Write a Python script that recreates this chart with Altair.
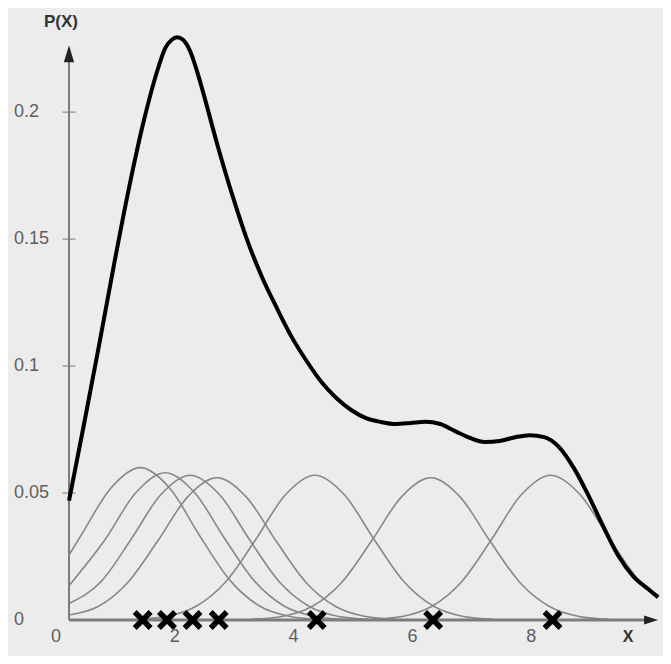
import altair as alt
import pandas as pd

# ---------------- data ----------------
black_x = [0.0, 0.25, 0.5, 0.75, 1.0, 1.25, 1.5, 1.62, 1.73, 1.82, 1.92, 2.04, 2.16, 2.25,
           2.5, 2.75, 3.0, 3.25, 3.5, 3.75, 4.0, 4.25, 4.5, 4.75, 5.0, 5.25, 5.5, 5.75,
           6.0, 6.25, 6.5, 6.75, 7.0, 7.25, 7.5, 7.75, 8.0, 8.25, 8.5, 8.75, 9.0, 9.25,
           9.5, 9.75, 9.92]
black_y = [0.0470, 0.0768, 0.1075, 0.1390, 0.1690, 0.1957, 0.2173, 0.2252, 0.2285, 0.2295,
           0.2285, 0.2240, 0.2158, 0.2085, 0.1870, 0.1673, 0.1496, 0.1350, 0.1228, 0.1114,
           0.1020, 0.0937, 0.0874, 0.0827, 0.0795, 0.0780, 0.0772, 0.0776, 0.0781, 0.0772,
           0.0744, 0.0717, 0.0701, 0.0705, 0.0719, 0.0728, 0.0720, 0.0681, 0.0598, 0.0488,
           0.0366, 0.0252, 0.0172, 0.0122, 0.0090]

k1_x = [0.0, 0.2, 0.7, 1.2, 1.7, 2.2, 2.7, 3.2, 3.7, 4.2]
k1_y = [0.0256, 0.0332, 0.0518, 0.0600, 0.0518, 0.0332, 0.0159, 0.0056, 0.0015, 0.0003]
k2_x = [0.0, 0.62, 1.12, 1.62, 2.12, 2.62, 3.12, 3.62, 4.12, 4.62]
k2_y = [0.0135, 0.0321, 0.0500, 0.0580, 0.0500, 0.0321, 0.0154, 0.0055, 0.0015, 0.0003]
k3_x = [0.0, 0.54, 1.04, 1.54, 2.04, 2.54, 3.04, 3.54, 4.04, 4.54, 5.04]
k3_y = [0.0065, 0.0151, 0.0316, 0.0492, 0.0570, 0.0492, 0.0316, 0.0151, 0.0054, 0.0014, 0.0003]
k4_x = [0.0, 0.49, 0.99, 1.49, 1.99, 2.49, 2.99, 3.49, 3.99, 4.49, 4.99, 5.49]
k4_y = [0.0020, 0.0053, 0.0148, 0.0310, 0.0483, 0.0560, 0.0483, 0.0310, 0.0148, 0.0053, 0.0014, 0.0003]
k5_x = [1.14, 1.64, 2.14, 2.64, 3.14, 3.64, 4.14, 4.64, 5.14, 5.64, 6.14, 6.64, 7.14]
k5_y = [0.0003, 0.0014, 0.0054, 0.0151, 0.0316, 0.0492, 0.0570, 0.0492, 0.0316, 0.0151, 0.0054, 0.0014, 0.0003]
k6_x = [3.09, 3.59, 4.09, 4.59, 5.09, 5.59, 6.09, 6.59, 7.09, 7.59, 8.09, 8.59, 9.09]
k6_y = [0.0003, 0.0014, 0.0053, 0.0148, 0.0310, 0.0483, 0.0560, 0.0483, 0.0310, 0.0148, 0.0053, 0.0014, 0.0003]
k7_x = [5.11, 5.61, 6.11, 6.61, 7.11, 7.61, 8.11, 8.61, 9.11, 9.61, 9.9]
k7_y = [0.0003, 0.0014, 0.0054, 0.0151, 0.0316, 0.0492, 0.0570, 0.0492, 0.0316, 0.0151, 0.0086]

sample_x = [1.24, 1.65, 2.08, 2.52, 4.17, 6.13, 8.14]

x_tick_values = [0, 2, 4, 6, 8]
x_tick_labels = ["0", "2", "4", "6", "8"]
y_tick_values = [0, 0.05, 0.1, 0.15, 0.2]
y_tick_labels = ["0", "0.05", "0.1", "0.15", "0.2"]

X_MAX = 10.0
Y_MAX = 0.23
X_AXIS_END = 9.8
Y_AXIS_END = 0.223

# ---------------- build tables ----------------
rows = []
for name, xs_, ys_ in [("k1", k1_x, k1_y), ("k2", k2_x, k2_y), ("k3", k3_x, k3_y),
                       ("k4", k4_x, k4_y), ("k5", k5_x, k5_y), ("k6", k6_x, k6_y),
                       ("k7", k7_x, k7_y)]:
    for a, b in zip(xs_, ys_):
        rows.append({"x": a, "y": b, "curve": name})
gray_df = pd.DataFrame(rows)
black_df = pd.DataFrame({"x": black_x, "y": black_y})
samples_df = pd.DataFrame({"x": sample_x, "y": [0.0] * len(sample_x)})
xlab_df = pd.DataFrame({"x": x_tick_values, "y": [0.0] * 5, "t": x_tick_labels})
ylab_df = pd.DataFrame({"x": [0.0] * 5, "y": y_tick_values, "t": y_tick_labels})
ytick_df = pd.DataFrame({"x": [0.0] * 4, "y": y_tick_values[1:]})

xs = alt.Scale(domain=[0, X_MAX], nice=False, zero=False)
ys = alt.Scale(domain=[0, Y_MAX], nice=False, zero=False)


def X(field="x"):
    return alt.X(f"{field}:Q", scale=xs, axis=None)


def Y(field="y"):
    return alt.Y(f"{field}:Q", scale=ys, axis=None)


FONT = "Liberation Sans"
AXIS_GRAY = "#7d7d7d"
LABEL_GRAY = "#5e5e5e"

gray = alt.Chart(gray_df).mark_line(color="#888888", strokeWidth=1.6, interpolate="monotone").encode(
    x=X(), y=Y(), detail="curve:N")

xaxis = alt.Chart(pd.DataFrame({"x": [0.0], "x2": [X_AXIS_END], "y": [0.0]})).mark_rule(
    color=AXIS_GRAY, strokeWidth=3).encode(x=X(), x2="x2:Q", y=Y())
yaxis = alt.Chart(pd.DataFrame({"x": [0.0], "y": [0.0], "y2": [Y_AXIS_END]})).mark_rule(
    color=AXIS_GRAY, strokeWidth=2).encode(x=X(), y=Y(), y2="y2:Q")

xarrow = alt.Chart(pd.DataFrame({"x": [X_AXIS_END], "y": [0.0]})).mark_point(
    shape="M 1 0 L -1 -0.65 L -1 0.65 Z", size=196, filled=True, color="#222", opacity=1).encode(x=X(), y=Y())
yarrow = alt.Chart(pd.DataFrame({"x": [0.0], "y": [Y_AXIS_END]})).mark_point(
    shape="M 0 -1 L 0.6 1 L -0.6 1 Z", size=290, filled=True, color="#222", opacity=1).encode(x=X(), y=Y())

yticks = alt.Chart(ytick_df).mark_tick(orient="horizontal", size=13, thickness=1.5,
                                      color=AXIS_GRAY).encode(x=X(), y=Y())

black = alt.Chart(black_df).mark_line(color="black", strokeWidth=4, interpolate="monotone").encode(
    x=X(), y=Y())

crosses = alt.Chart(samples_df).mark_point(
    shape="M -1 -1 L 1 1 M -1 1 L 1 -1", size=256, filled=False, color="black",
    strokeWidth=5.5, opacity=1).encode(x=X(), y=Y())

xlabels = alt.Chart(xlab_df).mark_text(font=FONT, fontSize=18, color=LABEL_GRAY, dx=-13, dy=17,
                                       align="center", baseline="middle").encode(x=X(), y=Y(), text="t:N")
ylabels = alt.Chart(ylab_df).mark_text(font=FONT, fontSize=18, color=LABEL_GRAY, dx=-55,
                                       align="left", baseline="middle").encode(x=X(), y=Y(), text="t:N")

ptitle = alt.Chart(pd.DataFrame({"x": [0.0], "y": [Y_MAX], "t": ["P(X)"]})).mark_text(
    font=FONT, fontSize=17, fontWeight="bold", color="#333", dx=-8, dy=-14,
    align="center", baseline="middle").encode(x=X(), y=Y(), text="t:N")
xtitle = alt.Chart(pd.DataFrame({"x": [9.41], "y": [0.0], "t": ["X"]})).mark_text(
    font=FONT, fontSize=16, fontWeight="bold", color="#333", dy=17,
    align="center", baseline="middle").encode(x=X(), y=Y(), text="t:N")

chart = alt.layer(gray, xaxis, yaxis, yticks, xarrow, yarrow, black, crosses,
                  xlabels, ylabels, ptitle, xtitle).properties(
    width=594, height=584,
    padding={"left": 61, "top": 28, "right": 0, "bottom": 36},
    autosize=alt.AutoSizeParams(type="none"),
    background="#ececec",
).configure_view(stroke=None)

chart.save("out.html", embed_options={"renderer": "svg", "actions": False})
